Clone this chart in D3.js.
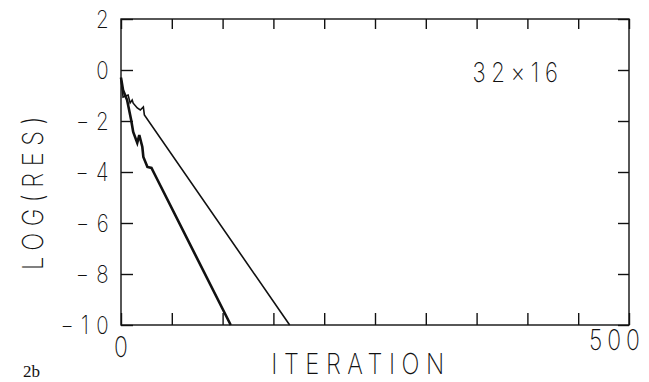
<!DOCTYPE html>
<html>
<head>
<meta charset="utf-8">
<script src="https://cdn.jsdelivr.net/npm/d3@7"></script>
<style>
  body { margin: 0; background: #fff; }
  svg { display: block; }
  .lbl { font-family: "Inter", "Roboto", "DejaVu Sans", sans-serif; font-weight: 200; fill: #111; }
</style>
</head>
<body>
<div id="chart"></div>
<script>
// axis ticks
const xTickValues = [0, 50, 100, 150, 200, 250, 300, 350, 400, 450, 500];
const xTickLabels = [{ v: 0, t: "0" }, { v: 500, t: "500" }];
const yTickValues = [2, 0, -2, -4, -6, -8, -10];

// thin curve (upper)
const thinIter = [0, 2, 7, 9, 11, 12, 16, 19, 22, 23, 166];
const thinLogRes = [-0.3, -1.06, -0.98, -1.29, -1.18, -1.3, -1.49, -1.57, -1.45, -1.76, -10];

// thick curve (lower)
const thickIter = [0, 2, 6, 10, 12, 16, 18, 21, 22, 26, 30, 33, 108];
const thickLogRes = [-0.3, -0.78, -1.18, -1.96, -2.43, -2.86, -2.55, -3.02, -3.41, -3.8, -3.84, -4.08, -10];

const gridLabel = "32\u00d716";

const W = 649, H = 382;
const margin = { top: 19, right: 20, bottom: 57, left: 121 },
      width = 508,
      height = 306;

const svg = d3.select("#chart").append("svg")
    .attr("width", W).attr("height", H);

const g = svg.append("g").attr("transform", `translate(${margin.left},${margin.top})`);

const x = d3.scaleLinear().domain([0, 500]).range([0, width]);
const y = d3.scaleLinear().domain([-10, 2]).range([height, 0]);

// narrow, tall plotter-style text
function label(parent, tx, ty, txt, size, spacing, anchor, rot) {
    return parent.append("text")
        .attr("class", "lbl")
        .attr("transform", `translate(${tx},${ty})` + (rot ? ` rotate(${rot})` : "") + " scale(0.82,1)")
        .attr("text-anchor", anchor)
        .style("font-size", size + "px")
        .style("letter-spacing", spacing + "px")
        .text(txt);
}

// frame
g.append("rect")
   .attr("width", width).attr("height", height)
   .attr("fill", "none").attr("stroke", "#111").attr("stroke-width", 1.4);

// ticks pointing inward on every side
g.append("g").attr("transform", `translate(0,${height})`)
   .call(d3.axisBottom(x).tickValues(xTickValues).tickSizeInner(-12).tickSizeOuter(0).tickFormat(""));
g.append("g")
   .call(d3.axisTop(x).tickValues(xTickValues).tickSizeInner(-10).tickSizeOuter(0).tickFormat(""));
g.append("g")
   .call(d3.axisLeft(y).tickValues(yTickValues).tickSizeInner(-12).tickSizeOuter(0).tickFormat(""));
g.append("g").attr("transform", `translate(${width},0)`)
   .call(d3.axisRight(y).tickValues(yTickValues).tickSizeInner(-11).tickSizeOuter(0).tickFormat(""));

g.selectAll(".domain").remove();
g.selectAll(".tick line").attr("stroke", "#111").attr("stroke-width", 1.4);

// y tick labels
yTickValues.forEach(d => {
    label(g, -5, y(d) + 9, d < 0 ? "\u2212" + Math.abs(d) : String(d), 25, 9, "end");
});

// x tick labels
label(g, x(0), height + 32, xTickLabels[0].t, 28, 0, "middle");
label(g, x(500) - 12, height + 25, xTickLabels[1].t, 28, 6, "middle");

// axis titles
label(svg, 361, 374, "ITERATION", 29, 8, "middle");
label(svg, 43, 190, "LOG(RES)", 29, 8, "middle", -90);

// grid size label
label(g, 397, 63, gridLabel, 27, 7, "middle");

// panel tag
svg.append("text")
   .attr("x", 23).attr("y", 377)
   .style("font-family", "'Liberation Serif', serif")
   .style("font-size", "17px")
   .attr("fill", "#111")
   .text("2b");

// curves
const line = d3.line().x(d => x(d[0])).y(d => y(d[1]));

g.append("path")
   .datum(thinIter.map((v, i) => [v, thinLogRes[i]]))
   .attr("d", line)
   .attr("fill", "none").attr("stroke", "#111").attr("stroke-width", 1.6);

g.append("path")
   .datum(thickIter.map((v, i) => [v, thickLogRes[i]]))
   .attr("d", line)
   .attr("fill", "none").attr("stroke", "#111").attr("stroke-width", 2.6);
</script>
</body>
</html>
